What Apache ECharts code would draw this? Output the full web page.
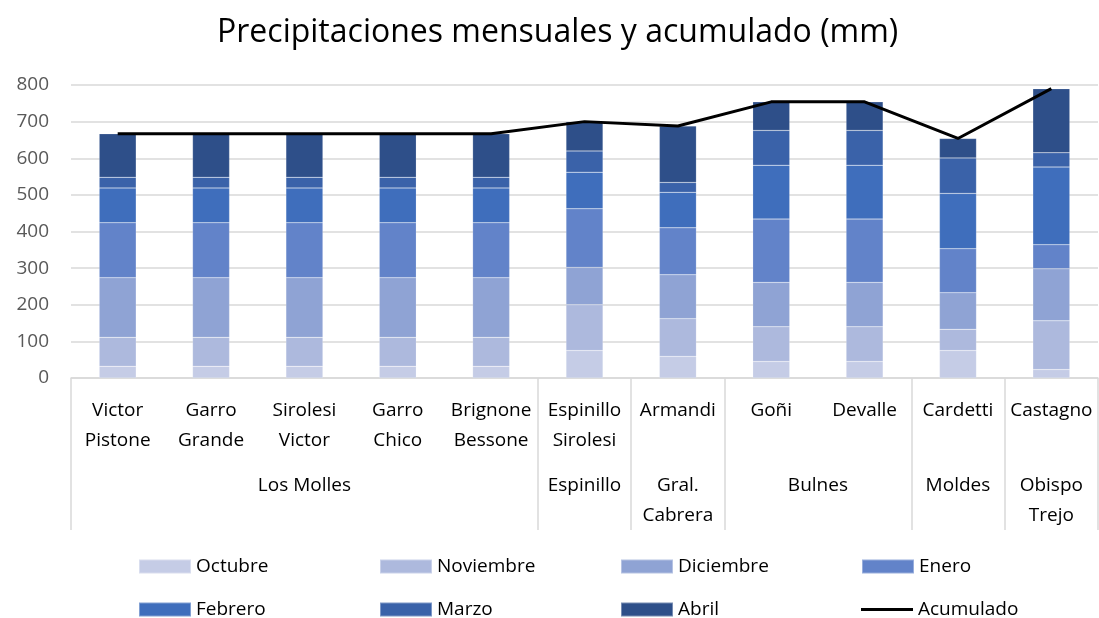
<!DOCTYPE html>
<html lang="es">

<head>
    <meta charset="UTF-8">
    <title>Precipitaciones</title>
    <script src="https://cdn.jsdelivr.net/npm/echarts@6/dist/echarts.min.js"></script>
</head>

<body style="margin:0">
    <div id="chart1" style="width: 1099px;height: 618px;"></div>
    <script type="text/javascript">
        // datos
        var estaciones = ['Victor\nPistone', 'Garro\nGrande', 'Sirolesi\nVictor', 'Garro\nChico', 'Brignone\nBessone',
            'Espinillo\nSirolesi', 'Armandi', 'Goñi', 'Devalle', 'Cardetti', 'Castagno'];
        var localidades = ['Los Molles', 'Espinillo', 'Gral.\nCabrera', 'Bulnes', 'Moldes', 'Obispo\nTrejo'];
        var estacionesPorLocalidad = [5, 1, 1, 2, 1, 1];

        var octubre = [32, 32, 32, 32, 32, 75, 59, 45, 45, 75, 23];
        var noviembre = [79, 79, 79, 79, 79, 125, 103, 95, 95, 58, 133];
        var diciembre = [163, 163, 163, 163, 163, 102, 120, 121, 121, 100, 142];
        var enero = [150, 150, 150, 150, 150, 160, 128, 173, 173, 120, 66];
        var febrero = [95, 95, 95, 95, 95, 100, 97, 147, 147, 151, 212];
        var marzo = [29, 29, 29, 29, 29, 58, 27, 95, 95, 97, 39];
        var abril = [119, 119, 119, 119, 119, 80, 154, 78, 78, 53, 175];
        var acumulado = [667, 667, 667, 667, 667, 700, 688, 754, 754, 654, 790];

        var meses = ['Octubre', 'Noviembre', 'Diciembre', 'Enero', 'Febrero', 'Marzo', 'Abril'];
        var valoresMes = [octubre, noviembre, diciembre, enero, febrero, marzo, abril];
        var colores = ['#C5CCE6', '#ADB9DD', '#8FA3D4', '#6283C9', '#3F6EBC', '#3A62A9', '#2E4F89'];

        var fuente = '"Open Sans", sans-serif';

        // limites y centros de cada localidad (segundo nivel del eje)
        var limites = [0], centros = [];
        var acc = 0;
        for (var i = 0; i < estacionesPorLocalidad.length; i++) {
            centros.push(acc + estacionesPorLocalidad[i] / 2);
            acc += estacionesPorLocalidad[i];
            limites.push(acc);
        }

        var chart1 = echarts.init(document.getElementById('chart1'));

        var series = meses.map(function (m, i) {
            return {
                name: m,
                type: 'bar',
                stack: 'total',
                barWidth: 37,
                data: valoresMes[i],
                itemStyle: { color: colores[i], borderColor: 'rgba(255,255,255,0.35)', borderWidth: 0.5 }
            };
        });
        series.push({
            name: 'Acumulado',
            type: 'line',
            data: acumulado,
            symbol: 'none',
            z: 5,
            itemStyle: { color: '#000' },
            lineStyle: { color: '#000', width: 3 }
        });

        // una leyenda por elemento, en una rejilla de 4 columnas
        var nombresLeyenda = meses.concat(['Acumulado']);
        var leyendas = nombresLeyenda.map(function (n, i) {
            return {
                data: [n],
                left: 133 + (i % 4) * 241,
                top: i < 4 ? 552 : 595,
                icon: 'rect',
                itemWidth: 52,
                itemHeight: n === 'Acumulado' ? 3 : 14,
                textStyle: { fontFamily: fuente, fontSize: 19, color: '#000' }
            };
        });

        var option = {
            animation: false,
            backgroundColor: '#fff',
            title: {
                text: 'Precipitaciones mensuales y acumulado (mm)',
                left: 212,
                top: 12,
                textStyle: { fontFamily: fuente, fontSize: 32, fontWeight: 'normal', color: '#000' }
            },
            legend: leyendas,
            grid: {
                left: 71,
                right: 1,
                top: 85,
                bottom: 240,
                containLabel: false
            },
            xAxis: [{
                type: 'category',
                data: estaciones,
                axisLine: { lineStyle: { color: '#D9D9D9', width: 1.5 } },
                axisTick: { show: false },
                axisLabel: {
                    interval: 0,
                    margin: 18,
                    fontFamily: fuente,
                    fontSize: 19,
                    lineHeight: 30,
                    color: '#000'
                }
            }, {
                // segundo nivel: localidades
                type: 'value',
                position: 'bottom',
                min: 0,
                max: estaciones.length,
                axisLine: { show: false },
                splitLine: { show: false },
                axisTick: {
                    customValues: limites,
                    length: 152,
                    lineStyle: { color: '#D9D9D9', width: 1.5 }
                },
                axisLabel: {
                    customValues: centros,
                    margin: 93,
                    fontFamily: fuente,
                    fontSize: 19,
                    lineHeight: 30,
                    color: '#000',
                    formatter: function (v) {
                        var k = centros.indexOf(v);
                        return k >= 0 ? localidades[k] : '';
                    }
                }
            }],
            yAxis: {
                type: 'value',
                min: 0,
                max: 800,
                interval: 100,
                axisLine: { show: false },
                axisTick: { show: false },
                splitLine: { lineStyle: { color: '#D9D9D9', width: 1.5 } },
                axisLabel: { fontFamily: fuente, fontSize: 19, color: '#595959', margin: 22 }
            },
            series: series
        };

        chart1.setOption(option);
    </script>
</body>

</html>
